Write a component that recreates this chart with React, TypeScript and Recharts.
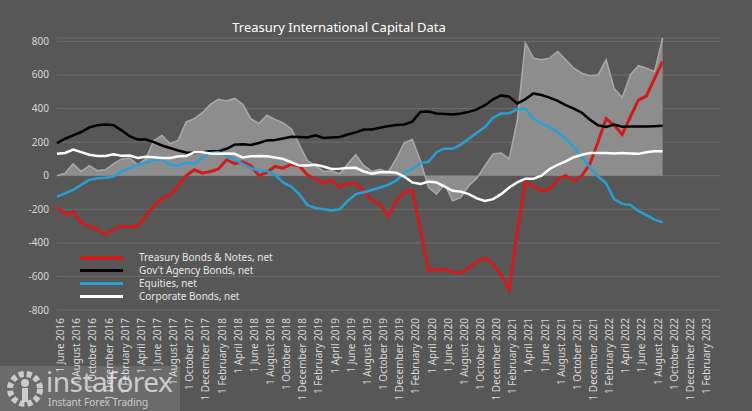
import React from "react";
import {
  ComposedChart,
  Area,
  Line,
  XAxis,
  YAxis,
  CartesianGrid,
} from "recharts";

const monthNames = [
  "January", "February", "March", "April", "May", "June",
  "July", "August", "September", "October", "November", "December",
];

// monthly categories, June 2016 .. February 2023
const categories = Array.from({ length: 81 }, (_, i) => {
  const m = 5 + i;
  return `1 ${monthNames[m % 12]} ${2016 + Math.floor(m / 12)}`;
});

const yTicks = [-800, -600, -400, -200, 0, 200, 400, 600, 800];

// data runs June 2016 .. September 2022
const totalNet = [
  0, 15, 70, 25, 60, 30, 35, 70, 100, 105, 65, 100, 210, 240, 190, 210,
  320, 340, 375, 425, 455, 445, 460, 425, 340, 310, 360, 335, 315, 280, 187, 90,
  60, 25, 28, 12, 70, 125, 60, 25, 38, 20, 100, 195, 215, 90, -70, -110,
  -50, -150, -130, -60, -15, 60, 130, 135, 100, 330, 790, 700, 690, 700, 740, 690,
  640, 610, 595, 600, 690, 520, 465, 600, 655, 640, 620, 820,
];

const treasury = [
  -187, -230, -216, -280, -305, -320, -350, -320, -300, -305, -300, -240, -180, -135, -115, -60,
  0, 35, 15, 25, 40, 95, 72, 82, 60, 0, 20, 55, 45, 68, 58, 5,
  -20, -45, -25, -70, -45, -47, -90, -150, -170, -240, -150, -100, -88, -320, -565, -560,
  -556, -575, -580, -550, -515, -490, -525, -590, -680, -330, -40, -60, -90, -80, -20, 0,
  -30, 0, 70, 200, 340, 300, 245, 350, 450, 475, 580, 680,
];

const agency = [
  193, 220, 240, 260, 288, 300, 305, 300, 270, 235, 215, 215, 200, 180, 165, 150,
  138, 135, 140, 145, 146, 160, 185, 187, 183, 195, 210, 212, 222, 232, 230, 228,
  240, 225, 228, 230, 245, 258, 275, 275, 285, 295, 302, 305, 322, 380, 382, 370,
  368, 365, 370, 380, 395, 420, 455, 478, 470, 430, 455, 490, 480, 465, 445, 420,
  400, 375, 333, 300, 290, 304, 292, 293, 293, 293, 295, 298,
];

const equities = [
  -125, -105, -85, -55, -25, -15, -12, -5, 25, 45, 65, 75, 95, 95, 65, 60,
  78, 70, 105, 135, 140, 118, 95, 70, 45, 30, 28, 5, -40, -65, -110, -175,
  -192, -200, -208, -200, -150, -110, -99, -85, -70, -55, -30, 15, 40, 75, 82, 140,
  162, 160, 185, 220, 255, 290, 345, 370, 372, 395, 400, 340, 310, 290, 260, 220,
  170, 110, 50, -5, -45, -140, -168, -175, -210, -235, -262, -278,
];

const corporate = [
  130, 135, 155, 140, 125, 117, 117, 128, 118, 120, 105, 112, 110, 105, 105, 115,
  117, 140, 140, 132, 130, 132, 130, 108, 115, 117, 115, 108, 100, 80, 60, 60,
  65, 55, 40, 42, 46, 47, 25, 12, 20, 22, 18, -5, -40, -50, -35, -40,
  -65, -90, -95, -110, -135, -150, -140, -110, -70, -40, -18, -18, 0, 40, 65, 85,
  110, 125, 135, 135, 135, 132, 135, 132, 130, 140, 145, 146,
];

const data = categories.map((month, i) => ({
  month,
  total: i < totalNet.length ? totalNet[i] : null,
  treasury: i < treasury.length ? treasury[i] : null,
  agency: i < agency.length ? agency[i] : null,
  equities: i < equities.length ? equities[i] : null,
  corporate: i < corporate.length ? corporate[i] : null,
}));

const FONT = "'Noto Sans', sans-serif";

const XTick = ({ x, y, payload }: any) => (
  <text
    x={x}
    y={y}
    dy="0.71em"
    transform={`rotate(-90 ${x} ${y})`}
    textAnchor="end"
    fill="#d8d8d8"
    fontSize={10}
    fontFamily={FONT}
  >
    {payload.value}
  </text>
);

const legendItems = [
  { label: "Treasury Bonds & Notes, net", color: "#d01c1c", w: 4 },
  { label: "Gov't Agency Bonds, net", color: "#000000", w: 3 },
  { label: "Equities, net", color: "#27a0d6", w: 3 },
  { label: "Corporate Bonds, net", color: "#ffffff", w: 3 },
];

export default function App() {
  return (
    <div
      style={{
        position: "absolute",
        left: 0,
        top: 0,
        width: 752,
        height: 411,
        background: "#575757",
        overflow: "hidden",
      }}
    >
      <div
        style={{
          position: "absolute",
          top: 18,
          left: 0,
          width: 678,
          textAlign: "center",
          color: "#ffffff",
          fontFamily: FONT,
          fontSize: 13,
        }}
      >
        Treasury International Capital Data
      </div>

      <ComposedChart
        width={752}
        height={411}
        data={data}
        margin={{ top: 38, right: 32, bottom: 0, left: 0 }}
      >
        <CartesianGrid vertical={false} stroke="#6d6d6d" />
        <XAxis
          dataKey="month"
          scale="point"
          interval={1}
          height={101}
          padding={{ left: 0, right: 17 }}
          axisLine={false}
          tickLine={false}
          tick={<XTick />}
        />
        <YAxis
          domain={[-800, 800]}
          ticks={yTicks}
          width={57}
          axisLine={false}
          tickLine={false}
          tick={{ fill: "#d8d8d8", fontSize: 10, fontFamily: FONT }}
        />
        <Area
          type="linear"
          dataKey="total"
          fill="#8d8d8d"
          fillOpacity={1}
          stroke="#a9a9a9"
          strokeWidth={1.5}
          legendType="none"
          isAnimationActive={false}
        />
        <Line type="linear" dataKey="treasury" stroke="#d01c1c" strokeWidth={3} dot={false} isAnimationActive={false} />
        <Line type="linear" dataKey="agency" stroke="#000000" strokeWidth={2.5} dot={false} isAnimationActive={false} />
        <Line type="linear" dataKey="equities" stroke="#27a0d6" strokeWidth={2.5} dot={false} isAnimationActive={false} />
        <Line type="linear" dataKey="corporate" stroke="#ffffff" strokeWidth={2.5} dot={false} isAnimationActive={false} />
      </ComposedChart>

      <div
        style={{
          position: "absolute",
          left: 80,
          top: 251,
          fontFamily: FONT,
          fontSize: 10,
          lineHeight: "13px",
          color: "#e6e6e6",
        }}
      >
        {legendItems.map((it) => (
          <div key={it.label} style={{ display: "flex", alignItems: "center", height: 13 }}>
            <div style={{ width: 43, height: it.w, background: it.color, marginRight: 16 }} />
            <span>{it.label}</span>
          </div>
        ))}
      </div>

      <div
        style={{
          position: "absolute",
          left: 0,
          top: 366,
          width: 180,
          height: 45,
          background: "rgba(255,255,255,0.12)",
          fontFamily: FONT,
          color: "rgba(235,235,235,0.75)",
        }}
      >
        <svg width={40} height={40} style={{ position: "absolute", left: 5, top: 3 }}>
          <circle cx={20} cy={20} r={15} fill="none" stroke="rgba(235,235,235,0.75)" strokeWidth={6} strokeDasharray="5 3" />
          <circle cx={20} cy={14} r={4} fill="rgba(235,235,235,0.75)" />
          <rect x={17} y={19} width={6} height={14} fill="rgba(235,235,235,0.75)" />
        </svg>
        <div style={{ position: "absolute", left: 46, top: -2, fontSize: 28, lineHeight: "34px", letterSpacing: -0.5 }}>
          instaforex
        </div>
        <div style={{ position: "absolute", left: 48, top: 30, fontSize: 10, lineHeight: "12px" }}>
          Instant Forex Trading
        </div>
      </div>
    </div>
  );
}
